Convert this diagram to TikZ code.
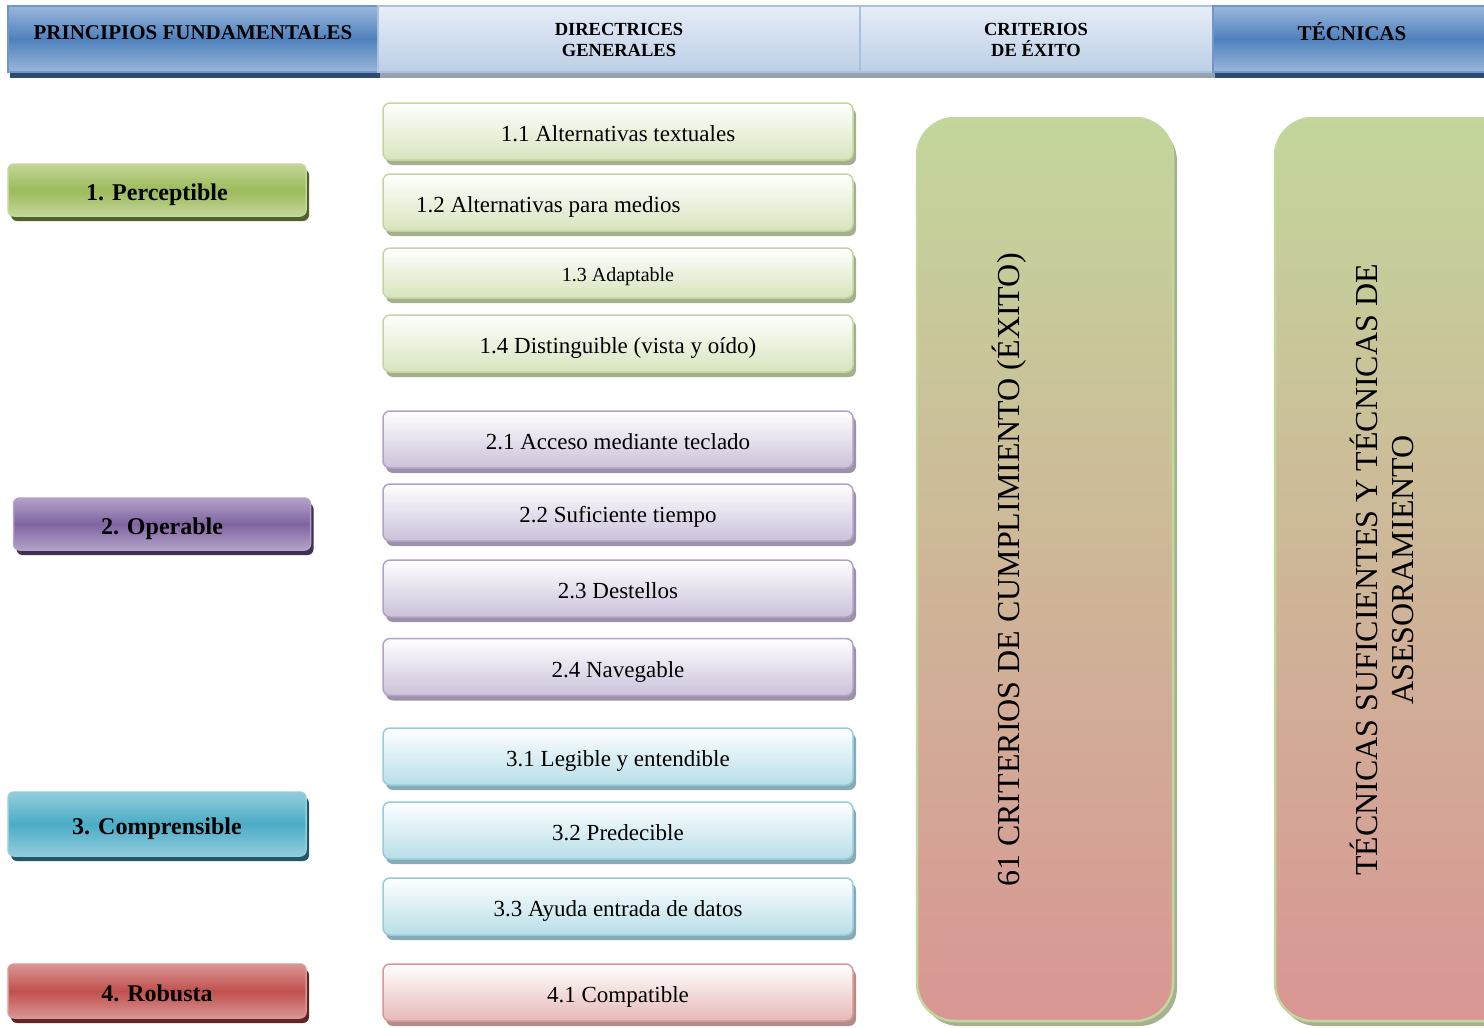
\documentclass[tikz,border=0pt]{standalone}
\usepackage{fontspec}
\setmainfont{Liberation Serif}
\usetikzlibrary{shadows}

% header bar colours
\definecolor{hdMid}{HTML}{4F81BD}
\definecolor{hdLight}{HTML}{9AB7DA}
\definecolor{hdEdge}{HTML}{6F97CA}
\definecolor{hdShadow}{HTML}{2C4A72}
\definecolor{hlTop}{HTML}{E6EDF7}
\definecolor{hlBot}{HTML}{BCCFE6}
\definecolor{hlEdge}{HTML}{A9C0DE}
\definecolor{hlShadow}{HTML}{97A2AF}
% principle colours
\definecolor{gMid}{HTML}{9BBB59}
\definecolor{gLight}{HTML}{C3D69B}
\definecolor{gDark}{HTML}{4F6228}
\definecolor{gTint}{HTML}{D7E4BD}
\definecolor{pMid}{HTML}{8064A2}
\definecolor{pLight}{HTML}{B3A2C7}
\definecolor{pDark}{HTML}{3F3151}
\definecolor{pTint}{HTML}{CCC1DA}
\definecolor{bMid}{HTML}{4BACC6}
\definecolor{bLight}{HTML}{93CDDD}
\definecolor{bDark}{HTML}{215968}
\definecolor{bTint}{HTML}{B7DEE8}
\definecolor{rMid}{HTML}{C0504D}
\definecolor{rLight}{HTML}{D99694}
\definecolor{rDark}{HTML}{632523}
\definecolor{rTint}{HTML}{E6B9B8}
\definecolor{colShadow}{HTML}{A5B28F}

\tikzset{
  hdark/.style={rectangle, draw=hdEdge, line width=1.5pt, inner sep=0pt,
    top color=hdLight, bottom color=hdLight, middle color=hdMid,
    general shadow={fill=hdShadow, shadow xshift=2pt, shadow yshift=-6pt}},
  hlight/.style={rectangle, draw=hlEdge, line width=1.5pt, inner sep=0pt,
    top color=hlTop, bottom color=hlBot,
    general shadow={fill=hlShadow, shadow xshift=2pt, shadow yshift=-6pt}},
  htext/.style={font=\fontsize{21}{23}\selectfont\bfseries, align=center, inner sep=0pt},
  hsmall/.style={font=\fontsize{18.5}{21}\selectfont\bfseries, align=center, inner sep=0pt},
  pbox/.style n args={3}{rectangle, rounded corners=6pt, draw=#2, line width=1.5pt,
    top color=#2, bottom color=#2, middle color=#1, inner sep=0pt,
    general shadow={fill=#3, shadow xshift=3pt, shadow yshift=-5pt},
    font=\fontsize{24}{28}\selectfont\bfseries, text height=21.6pt, text depth=0pt},
  gbox/.style 2 args={rectangle, rounded corners=7pt, draw=#1, line width=1.5pt,
    top color=white, bottom color=#2, inner sep=0pt,
    general shadow={fill=#1!55!gray, shadow xshift=3pt, shadow yshift=-5pt},
    minimum width=470pt, minimum height=57pt,
    font=\fontsize{23}{27}\selectfont, text height=20.2pt, text depth=0pt},
  bigcol/.style={rectangle, rounded corners=38pt, draw=gLight, line width=2.5pt,
    top color=gLight, bottom color=rLight, middle color=gLight!50!rLight,
    general shadow={fill=colShadow, shadow xshift=4pt, shadow yshift=-5pt},
    minimum width=256pt, minimum height=903pt, inner sep=0pt},
  coltext/.style={rotate=90, font=\fontsize{32}{36}\selectfont, align=center, inner sep=0pt}
}

\begin{document}
\begin{tikzpicture}[x=1pt,y=-1pt]
\useasboundingbox (0,0) rectangle (1484,1028);
\clip (0,0) rectangle (1484,1028);

% header bar
\node[hdark, minimum width=370pt, minimum height=66pt] (hP) at (193,39) {};
\node[hlight, minimum width=482pt, minimum height=66pt] (hD) at (619,39) {};
\node[hlight, minimum width=353pt, minimum height=66pt] (hC) at (1036.5,39) {};
\node[hdark, minimum width=287pt, minimum height=66pt] (hT) at (1356.5,39) {};
\node[htext] (hPt) at (193,33) {PRINCIPIOS FUNDAMENTALES};
\node[hsmall] (hDt) at (619,40) {DIRECTRICES\\GENERALES};
\node[hsmall] (hCt) at (1036,40) {CRITERIOS\\DE ÉXITO};
\node[htext] (hTt) at (1352,32) {TÉCNICAS};

% principles
\node[pbox={gMid}{gLight}{gDark}, minimum width=298pt, minimum height=52pt] (p1) at (157,190) {1. Perceptible};
\node[pbox={pMid}{pLight}{pDark}, minimum width=297pt, minimum height=52pt] (p2) at (162,524) {2. Operable};
\node[pbox={bMid}{bLight}{bDark}, minimum width=298pt, minimum height=64pt] (p3) at (157,824) {3. Comprensible};
\node[pbox={rMid}{rLight}{rDark}, minimum width=298pt, minimum height=54pt] (p4) at (157,991) {4. Robusta};

% guidelines
\node[gbox={gLight}{gTint}] (g11) at (618,131.5) {1.1 Alternativas textuales};
\node[gbox={gLight}{gTint}, text width=404pt, align=flush left, inner xsep=33pt] (g12) at (618,202.5) {1.2 Alternativas para medios};
\node[gbox={gLight}{gTint}, minimum height=50pt, font=\fontsize{20}{24}\selectfont, text height=17.4pt] (g13) at (618,273) {1.3 Adaptable};
\node[gbox={gLight}{gTint}] (g14) at (618,343.5) {1.4 Distinguible (vista y oído)};

\node[gbox={pLight}{pTint}] (g21) at (618,439.5) {2.1 Acceso mediante teclado};
\node[gbox={pLight}{pTint}] (g22) at (618,512.5) {2.2 Suficiente tiempo};
\node[gbox={pLight}{pTint}] (g23) at (618,588.5) {2.3 Destellos};
\node[gbox={pLight}{pTint}] (g24) at (618,667) {2.4 Navegable};

\node[gbox={bLight}{bTint}] (g31) at (618,756.5) {3.1 Legible y entendible};
\node[gbox={bLight}{bTint}] (g32) at (618,830.5) {3.2 Predecible};
\node[gbox={bLight}{bTint}] (g33) at (618,906.5) {3.3 Ayuda entrada de datos};

\node[gbox={rLight}{rTint}] (g41) at (618,992.5) {4.1 Compatible};

% success criteria and techniques
\node[bigcol] (crit) at (1045,569.5) {};
\node[bigcol] (tec) at (1403,569.5) {};
\node[coltext] (critT) at (1009,570) {61 CRITERIOS DE CUMPLIMIENTO (ÉXITO)};
\node[coltext] (tecT) at (1382,570) {TÉCNICAS SUFICIENTES Y TÉCNICAS DE\\ASESORAMIENTO};
\end{tikzpicture}
\end{document}
